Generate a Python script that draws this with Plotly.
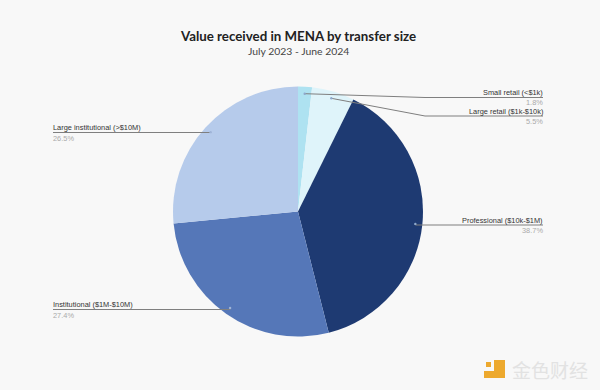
import math
import plotly.graph_objects as go

categories = ["Small retail (<$1k)", "Large retail ($1k-$10k)", "Professional ($10k-$1M)",
              "Institutional ($1M-$10M)", "Large institutional (>$10M)"]
shares = [1.8, 5.5, 38.7, 27.4, 26.5]
colors = ["#aee2f1", "#dff4fa", "#1e3a72", "#5577b8", "#b6cbeb"]

W, H = 600, 390
cx, cy, R = 298, 211.5, 125
BG = "#f8f8f8"
# label layout: side, text y, percent y, line y, elbow x (None = straight)
layout_spec = [
    ("right", 92, 102.5, 97.5, 425),
    ("right", 111, 121.5, 116, 425),
    ("right", 220, 230.5, 225, None),
    ("left", 304.5, 315, 309.5, None),
    ("left", 127.5, 138, 132.5, None),
]
X_LEFT, X_RIGHT = 53, 543

px = lambda x: x / W
py = lambda y: 1 - y / H

fig = go.Figure(go.Pie(
    labels=categories, values=shares, sort=False, direction="clockwise", rotation=0,
    marker=dict(colors=colors, line=dict(width=0)), textinfo="none", showlegend=False,
    domain=dict(x=[px(cx - R), px(cx + R)], y=[py(cy + R), py(cy - R)]),
))

annotations, shapes = [], []
def text(x, y, s, size, color, family, anchor="center"):
    annotations.append(dict(x=px(x), y=py(y), xref="paper", yref="paper", text=s, showarrow=False,
                            borderpad=0, borderwidth=0,
                            xanchor=anchor, yanchor="middle", font=dict(size=size, color=color, family=family)))

text(298, 35.5, "<b>Value received in MENA by transfer size</b>", 13.3, "#222222", "Lato")
text(298, 51, "July 2023 - June 2024", 10.4, "#444444", "Lato")

total = sum(shares)
cum = 0
for cat, v, (side, ty, py_, ly, ex) in zip(categories, shares, layout_spec):
    a = 2 * math.pi * (cum + v / 2) / total
    cum += v
    ax, ay = cx + 118 * math.sin(a), cy - 118 * math.cos(a)
    end = X_RIGHT if side == "right" else X_LEFT
    path = f"M{px(ax)},{py(ay)} "
    if ex is not None:
        path += f"L{px(ex)},{py(ly)} "
        path += f"L{px(end)},{py(ly)}"
    else:
        path += f"L{px(ax)},{py(ly)} L{px(end)},{py(ly)}"
    shapes.append(dict(type="path", path=path, xref="paper", yref="paper",
                       line=dict(color="#7f7f7f", width=1)))
    shapes.append(dict(type="circle", xref="paper", yref="paper", x0=px(ax - 1.2), x1=px(ax + 1.2),
                       y0=py(ay + 1.2), y1=py(ay - 1.2), fillcolor="#9fb4d8" if side != "right" else "#8fa9cc",
                       line=dict(width=0)))
    anchor = "right" if side == "right" else "left"
    x = X_RIGHT if side == "right" else X_LEFT
    text(x, ty, cat, 7.4, "#333333", "Liberation Sans", anchor)
    text(x, py_, f"{v}%", 7.4, "#aaaaaa", "Liberation Sans", anchor)

# watermark
text(512, 369, "金色财经", 19, "#e2e2e2", "Noto Sans CJK SC", "left")
for x0, y0, x1, y1 in [(494, 360, 505, 378), (484, 371, 494, 378), (486, 362, 491, 367)]:
    shapes.append(dict(type="rect", xref="paper", yref="paper", x0=px(x0), x1=px(x1), y0=py(y1), y1=py(y0),
                       fillcolor="#eda92e", line=dict(width=0)))

fig.update_layout(width=W, height=H, margin=dict(l=0, r=0, t=0, b=0), autosize=False,
                  paper_bgcolor=BG, plot_bgcolor=BG, annotations=annotations, shapes=shapes)
fig.write_html("out.html", config=dict(displayModeBar=False),
               post_script=f"document.body.style.margin='0';document.documentElement.style.overflow='hidden';document.body.style.background='{BG}';")
